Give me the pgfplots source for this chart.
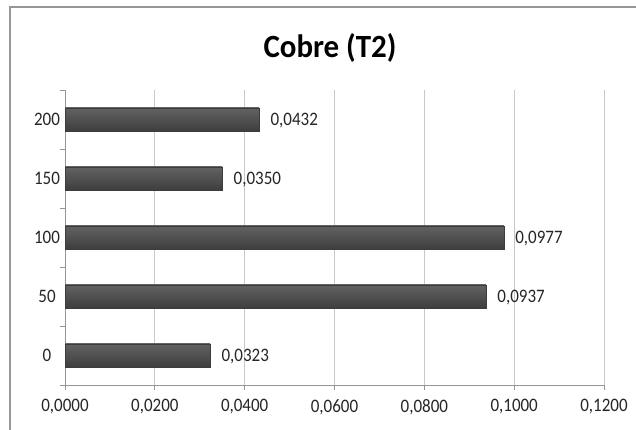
\documentclass[border=0pt]{standalone}
\usepackage{pgfplots}
\pgfplotsset{compat=1.18}
\usepackage{fontspec}
\setmainfont{Carlito}
\definecolor{bartop}{RGB}{98,98,98}
\definecolor{barbot}{RGB}{62,62,62}
\definecolor{baredge}{RGB}{60,60,60}
\definecolor{gridc}{RGB}{200,200,200}
\definecolor{axisc}{RGB}{150,150,150}
\definecolor{framec}{RGB}{150,150,150}
\newcommand{\vs}[1]{\scalebox{1}[1.12]{#1}}
\tikzset{barsty/.style={top color=bartop, bottom color=barbot, draw=baredge}}
\begin{document}
\begin{tikzpicture}[x=1pt,y=1pt]
\useasboundingbox (0,0) rectangle (636,430);
\fill[white] (0,0) rectangle (636,430);
\draw[framec, line width=1.6pt] (10,0) -- (10,423) -- (636,423);
\node[font=\fontsize{30}{34}\selectfont\bfseries] at (330,382) {\scalebox{1.03}[1.08]{Cobre (T2)}};
\begin{axis}[
  at={(65pt,74.5pt)}, anchor=origin,
  scale only axis, width=539pt, height=295pt,
  xbar, bar width=23pt, bar shift=0pt,
  xmin=0, xmax=0.12,
  ymin=-0.5, ymax=4.5,
  xtick={0,0.02,...,0.121},
  ytick={0,1,2,3,4},
  yticklabels={\vs{0},\vs{50},\vs{100},\vs{150},\vs{200}},
  minor ytick={-0.5,0.5,1.5,2.5,3.5,4.5},
  major y tick style={draw=none},
  minor y tick style={axisc, line width=0.8pt},
  x tick style={axisc, line width=0.8pt},
  tick align=outside,
  major tick length=5pt, minor tick length=5pt,
  xmajorgrids, grid style={gridc, line width=0.8pt},
  axis line style={axisc, line width=0.8pt},
  axis x line*=bottom, axis y line*=left,
  /pgf/number format/.cd, fixed, fixed zerofill, precision=4, use comma, assume math mode=true,
  /pgfplots/.cd,
  scaled x ticks=false,
  xticklabel={\vs{\pgfmathprintnumber{\tick}}},
  tick label style={font=\fontsize{17}{20}\selectfont, text=black!85},
  xticklabel style={yshift=-6pt},
  yticklabel style={anchor=center, xshift=-13pt},
  nodes near coords={\vs{\pgfmathprintnumber{\pgfplotspointmeta}}},
  nodes near coords style={font=\fontsize{17}{20}\selectfont, text=black!85, anchor=west, xshift=8pt, yshift=-1pt, /pgf/number format/.cd, fixed, fixed zerofill, precision=4, use comma, assume math mode=true},
  clip=false,
]
\addplot[barsty] coordinates {(0.0323,0)};
\addplot[barsty] coordinates {(0.0937,1)};
\addplot[barsty] coordinates {(0.0977,2)};
\addplot[barsty] coordinates {(0.0350,3)};
\addplot[barsty] coordinates {(0.0432,4)};
\end{axis}
\end{tikzpicture}
\end{document}
